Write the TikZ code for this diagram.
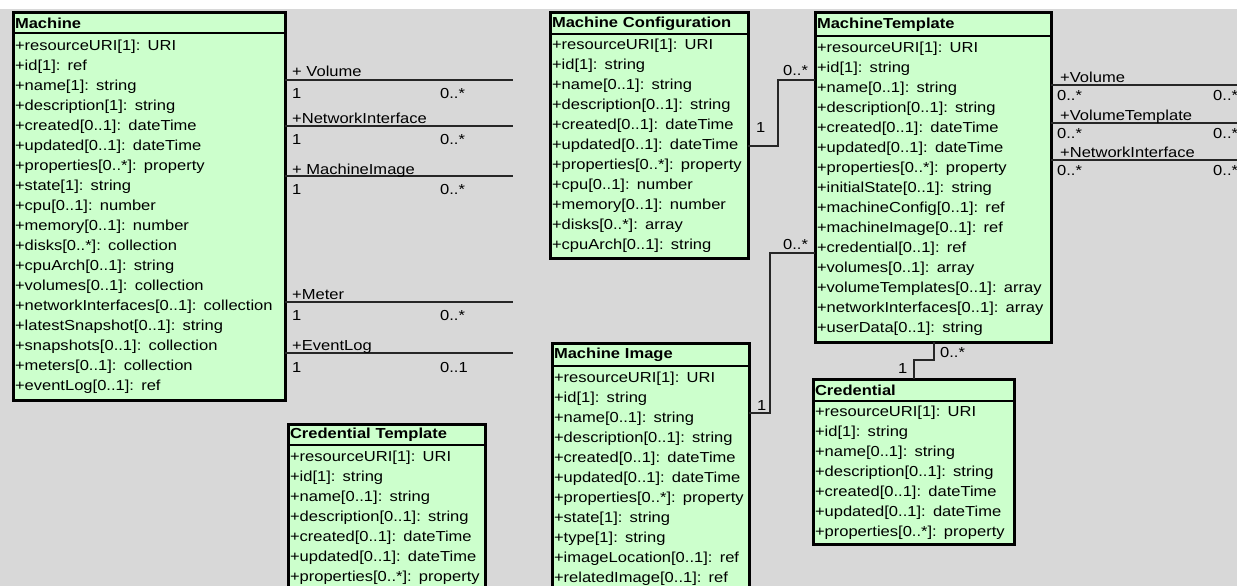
\documentclass[tikz,border=0pt]{standalone}
\usepackage{fontspec}
\setmainfont[FakeStretch=1.14]{Liberation Sans}
\usetikzlibrary{positioning,calc}

\definecolor{clsgreen}{RGB}{204,255,204}
\definecolor{canvas}{RGB}{216,216,216}

\begin{document}
\begin{tikzpicture}[
  x=1pt, y=1pt,
  font=\fontsize{14.5}{20}\selectfont,
  box/.style={draw, line width=1.5pt, fill=clsgreen, anchor=north west,
              outer sep=0pt, inner xsep=2pt, inner ysep=0pt, align=left},
  hd/.style={box, font=\fontsize{14.5}{20}\selectfont\bfseries},
  bd/.style={box},
  frame/.style={line width=3pt},
  assoc/.style={line width=2pt, draw=black!85},
  lbl/.style={anchor=base west, inner sep=0pt}
]
\useasboundingbox (0,0) rectangle (1237,-586);
\fill[white] (0,0) rectangle (1237,-9);
\fill[canvas] (0,-9) rectangle (1237,-586);

% Machine
\node[hd, text width=268pt, minimum height=20pt] (mach) at (13,-13) {Machine};
\node[bd, text width=268pt, minimum height=367pt] (machb) at (mach.south west) {%
+resourceURI[1]: URI\\
+id[1]: ref\\
+name[1]: string\\
+description[1]: string\\
+created[0..1]: dateTime\\
+updated[0..1]: dateTime\\
+properties[0..*]: property\\
+state[1]: string\\
+cpu[0..1]: number\\
+memory[0..1]: number\\
+disks[0..*]: collection\\
+cpuArch[0..1]: string\\
+volumes[0..1]: collection\\
+networkInterfaces[0..1]: collection\\
+latestSnapshot[0..1]: string\\
+snapshots[0..1]: collection\\
+meters[0..1]: collection\\
+eventLog[0..1]: ref};
\draw[frame] (mach.north west) rectangle (machb.south east);

% Machine Configuration
\node[hd, text width=194pt, minimum height=21pt] (mconf) at (550,-13) {Machine Configuration};
\node[bd, text width=194pt, minimum height=224pt] (mconfb) at (mconf.south west) {%
+resourceURI[1]: URI\\
+id[1]: string\\
+name[0..1]: string\\
+description[0..1]: string\\
+created[0..1]: dateTime\\
+updated[0..1]: dateTime\\
+properties[0..*]: property\\
+cpu[0..1]: number\\
+memory[0..1]: number\\
+disks[0..*]: array\\
+cpuArch[0..1]: string};
\draw[frame] (mconf.north west) rectangle (mconfb.south east);

% MachineTemplate
\node[hd, text width=232pt, minimum height=23pt] (mtpl) at (815,-13) {MachineTemplate};
\node[bd, text width=232pt, minimum height=306pt] (mtplb) at (mtpl.south west) {%
+resourceURI[1]: URI\\
+id[1]: string\\
+name[0..1]: string\\
+description[0..1]: string\\
+created[0..1]: dateTime\\
+updated[0..1]: dateTime\\
+properties[0..*]: property\\
+initialState[0..1]: string\\
+machineConfig[0..1]: ref\\
+machineImage[0..1]: ref\\
+credential[0..1]: ref\\
+volumes[0..1]: array\\
+volumeTemplates[0..1]: array\\
+networkInterfaces[0..1]: array\\
+userData[0..1]: string};
\draw[frame] (mtpl.north west) rectangle (mtplb.south east);

% Machine Image
\node[hd, text width=193pt, minimum height=23pt] (mimg) at (552,-343) {Machine Image};
\node[bd, text width=193pt, minimum height=226pt] (mimgb) at (mimg.south west) {%
+resourceURI[1]: URI\\
+id[1]: string\\
+name[0..1]: string\\
+description[0..1]: string\\
+created[0..1]: dateTime\\
+updated[0..1]: dateTime\\
+properties[0..*]: property\\
+state[1]: string\\
+type[1]: string\\
+imageLocation[0..1]: ref\\
+relatedImage[0..1]: ref};
\draw[frame] (mimg.north west) rectangle (mimgb.south east);

% Credential
\node[hd, text width=197pt, minimum height=22pt] (cred) at (813,-379) {Credential};
\node[bd, text width=197pt, minimum height=143pt] (credb) at (cred.south west) {%
+resourceURI[1]: URI\\
+id[1]: string\\
+name[0..1]: string\\
+description[0..1]: string\\
+created[0..1]: dateTime\\
+updated[0..1]: dateTime\\
+properties[0..*]: property};
\draw[frame] (cred.north west) rectangle (credb.south east);

% Credential Template
\node[hd, text width=193pt, minimum height=21pt] (ctpl) at (288,-424) {Credential Template};
\node[bd, text width=193pt, minimum height=146pt] (ctplb) at (ctpl.south west) {%
+resourceURI[1]: URI\\
+id[1]: string\\
+name[0..1]: string\\
+description[0..1]: string\\
+created[0..1]: dateTime\\
+updated[0..1]: dateTime\\
+properties[0..*]: property};
\draw[frame] (ctpl.north west) rectangle (ctplb.south east);

% associations leaving Machine
\coordinate (volL) at (513,-80);
\coordinate (nicL) at (513,-126);
\coordinate (imgL) at (513,-176);
\coordinate (metL) at (513,-302);
\coordinate (evtL) at (513,-353);
\draw[assoc] (volL -| machb.east) -- (volL);
\draw[assoc] (nicL -| machb.east) -- (nicL);
\draw[assoc] (imgL -| machb.east) -- (imgL);
\draw[assoc] (metL -| machb.east) -- (metL);
\draw[assoc] (evtL -| machb.east) -- (evtL);
\node[lbl] (volA) at (292,-77)  {+ Volume};
\node[lbl] (volB) at (292,-98)  {1};
\node[lbl] (volC) at (440,-98)  {0..*};
\node[lbl] (nicA) at (292,-123) {+NetworkInterface};
\node[lbl] (nicB) at (292,-144) {1};
\node[lbl] (nicC) at (440,-144) {0..*};
\node[lbl] (imgA) at (292,-174) {+ MachineImage};
\node[lbl] (imgB) at (292,-194) {1};
\node[lbl] (imgC) at (440,-194) {0..*};
\node[lbl] (metA) at (292,-299) {+Meter};
\node[lbl] (metB) at (292,-320) {1};
\node[lbl] (metC) at (440,-320) {0..*};
\node[lbl] (evtA) at (292,-350) {+EventLog};
\node[lbl] (evtB) at (292,-372) {1};
\node[lbl] (evtC) at (440,-372) {0..1};

% associations leaving MachineTemplate
\coordinate (volR) at (1237,-85);
\coordinate (vtpR) at (1237,-123);
\coordinate (nicR) at (1237,-160);
\draw[assoc] (volR -| mtplb.east) -- (volR);
\draw[assoc] (vtpR -| mtplb.east) -- (vtpR);
\draw[assoc] (nicR -| mtplb.east) -- (nicR);
\node[lbl] (vrA) at (1060,-82)  {+Volume};
\node[lbl] (vrB) at (1057,-100) {0..*};
\node[lbl] (vrC) at (1213,-100) {0..*};
\node[lbl] (vtA) at (1060,-120) {+VolumeTemplate};
\node[lbl] (vtB) at (1057,-138) {0..*};
\node[lbl] (vtC) at (1213,-138) {0..*};
\node[lbl] (nrA) at (1060,-157) {+NetworkInterface};
\node[lbl] (nrB) at (1057,-175) {0..*};
\node[lbl] (nrC) at (1213,-175) {0..*};

% configuration, image and credential links
\draw[assoc] (mconfb.east) -- ++(30,0) |- ([yshift=-67pt]mtpl.north west);
\node[lbl] at (756,-132) {1};
\node[lbl] at (783,-76) {0..*};
\draw[assoc] ([yshift=-70pt]mimg.north east) -- ++(21,0) |- ([yshift=-240pt]mtpl.north west);
\node[lbl] at (757,-410) {1};
\node[lbl] at (783,-249) {0..*};
\draw[assoc] (cred.north) -- ++(0,19) -| ([xshift=119pt]mtplb.south west);
\node[lbl] at (940,-357) {0..*};
\node[lbl] at (898,-373) {1};
\end{tikzpicture}
\end{document}
